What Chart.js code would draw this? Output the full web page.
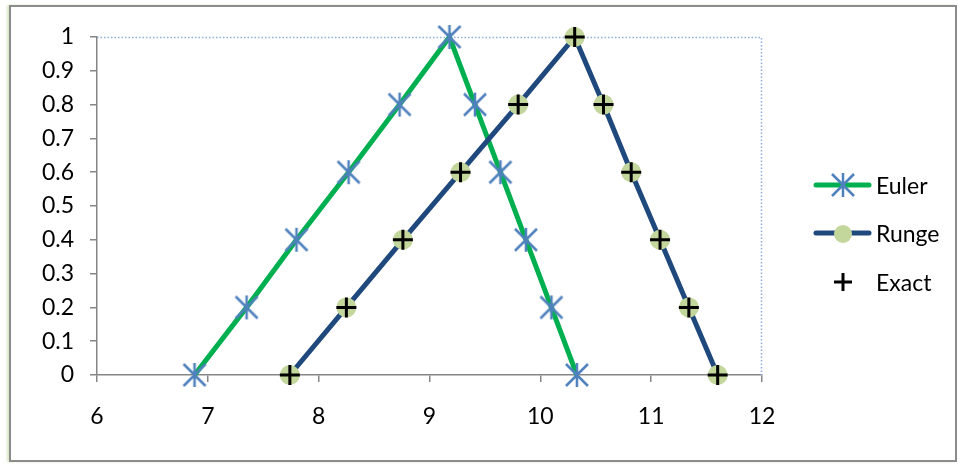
<!DOCTYPE html>
<html>
<head>
<meta charset="utf-8">
<script src="https://cdn.jsdelivr.net/npm/chart.js@4"></script>
<style>
  html, body { margin: 0; padding: 0; background: #fff; }
  #frame { position: absolute; left: 9px; top: 5px; width: 944px; height: 453px;
           border: 2px solid #8c8c8c; box-shadow: -2px 0 2px #d8e8c4; }
  #wrap { position: absolute; left: 0; top: 0; width: 958px; height: 464px; }
</style>
</head>
<body>
<div id="frame"></div>
<div id="wrap"><canvas id="chart" width="958" height="464"></canvas></div>
<script>
// values
const eulerX = [6.88, 7.35, 7.80, 8.27, 8.73, 9.18, 9.41, 9.64, 9.87, 10.10, 10.33];
const eulerY = [0, 0.2, 0.4, 0.6, 0.8, 1, 0.8, 0.6, 0.4, 0.2, 0];
const rungeX = [7.74, 8.25, 8.76, 9.28, 9.80, 10.31, 10.57, 10.82, 11.08, 11.34, 11.60];
const rungeY = [0, 0.2, 0.4, 0.6, 0.8, 1, 0.8, 0.6, 0.4, 0.2, 0];
const exactX = [7.74, 8.25, 8.76, 9.28, 9.80, 10.31, 10.57, 10.82, 11.08, 11.34, 11.60];
const exactY = [0, 0.2, 0.4, 0.6, 0.8, 1, 0.8, 0.6, 0.4, 0.2, 0];
const seriesNames = ["Euler", "Runge", "Exact"];

const FONT = "Lato, 'Open Sans', sans-serif";

// asterisk marker like the Excel "star"
function makeStar() {
  const c = document.createElement('canvas');
  c.width = 26; c.height = 26;
  const g = c.getContext('2d');
  g.strokeStyle = '#4f81bd';
  g.lineWidth = 2.5;
  g.beginPath();
  g.moveTo(2, 2); g.lineTo(24, 24);
  g.moveTo(24, 2); g.lineTo(2, 24);
  g.moveTo(13, 1); g.lineTo(13, 25);
  g.stroke();
  return c;
}
const star = makeStar();

function pts(xs, ys) {
  return xs.map((x, i) => ({ x: x, y: ys[i] }));
}

// dotted top/right edge of the plot area + legend
const extras = {
  id: 'extras',
  beforeDatasetsDraw(chart) {
    const a = chart.chartArea, c = chart.ctx;
    c.save();
    c.strokeStyle = '#8eb0dc';
    c.lineWidth = 1.5;
    c.setLineDash([1.5, 2]);
    c.beginPath();
    c.moveTo(a.left, a.top + 0.5);
    c.lineTo(a.right - 0.5, a.top + 0.5);
    c.lineTo(a.right - 0.5, a.bottom);
    c.stroke();
    c.restore();
  },
  afterDraw(chart) {
    const c = chart.ctx;
    const ds = chart.data.datasets;
    const rows = [185, 233, 282];
    c.save();
    c.font = "23px " + FONT;
    c.textBaseline = 'middle';
    rows.forEach((y, i) => {
      const d = ds[i];
      if (d.showLine !== false) {
        c.strokeStyle = d.borderColor;
        c.lineWidth = 5;
        c.lineCap = 'round';
        c.beginPath();
        c.moveTo(816, y); c.lineTo(869, y);
        c.stroke();
      }
      if (i === 0) {
        c.drawImage(star, 843 - 13, y - 13);
      } else if (i === 1) {
        c.fillStyle = d.pointBackgroundColor;
        c.beginPath(); c.arc(843, y + 1, 9, 0, Math.PI * 2); c.fill();
      } else {
        c.strokeStyle = '#000';
        c.lineWidth = 3;
        c.lineCap = 'butt';
        c.beginPath();
        c.moveTo(834, y); c.lineTo(852, y);
        c.moveTo(843, y - 9); c.lineTo(843, y + 9);
        c.stroke();
      }
      c.fillStyle = '#000';
      c.fillText(seriesNames[i], 876, y + 2);
    });
    c.restore();
  }
};

const ctx = document.getElementById('chart').getContext('2d');

const chart = new Chart(ctx, {
  type: 'scatter',
  data: {
    datasets: [
      {
        label: seriesNames[0],
        data: pts(eulerX, eulerY),
        showLine: true,
        borderColor: '#00b050',
        borderWidth: 5,
        pointStyle: star,
        clip: false,
        order: 3
      },
      {
        label: seriesNames[1],
        data: pts(rungeX, rungeY),
        showLine: true,
        borderColor: '#1f497d',
        borderWidth: 5,
        pointStyle: 'circle',
        pointRadius: 10,
        pointBackgroundColor: '#c3d69b',
        pointBorderWidth: 0,
        clip: false,
        order: 2
      },
      {
        label: seriesNames[2],
        data: pts(exactX, exactY),
        showLine: false,
        pointStyle: 'cross',
        pointRadius: 10,
        borderColor: '#000',
        pointBorderColor: '#000',
        pointBorderWidth: 3,
        clip: false,
        order: 1
      }
    ]
  },
  options: {
    responsive: false,
    animation: false,
    events: [],
    layout: { padding: { left: 0, top: 37, right: 196, bottom: 0 } },
    plugins: {
      legend: { display: false },
      tooltip: { enabled: false }
    },
    scales: {
      x: {
        type: 'linear',
        min: 6, max: 12,
        afterFit(s) { s.height = 89; },
        ticks: { stepSize: 1, color: '#000', font: { family: FONT, size: 23 }, padding: 21, maxRotation: 0 },
        grid: { drawOnChartArea: false, drawTicks: true, tickLength: 7, color: '#868686', lineWidth: 1.5 },
        border: { color: '#868686', width: 1.5 }
      },
      y: {
        min: 0, max: 1,
        afterFit(s) { s.width = 97; },
        ticks: {
          stepSize: 0.1, color: '#000', font: { family: FONT, size: 23 }, padding: 16,
          callback: v => Math.round(v * 10) / 10
        },
        grid: { drawOnChartArea: false, drawTicks: true, tickLength: 7, color: '#868686', lineWidth: 1.5 },
        border: { color: '#868686', width: 1.5 }
      }
    }
  },
  plugins: [extras]
});
</script>
</body>
</html>
